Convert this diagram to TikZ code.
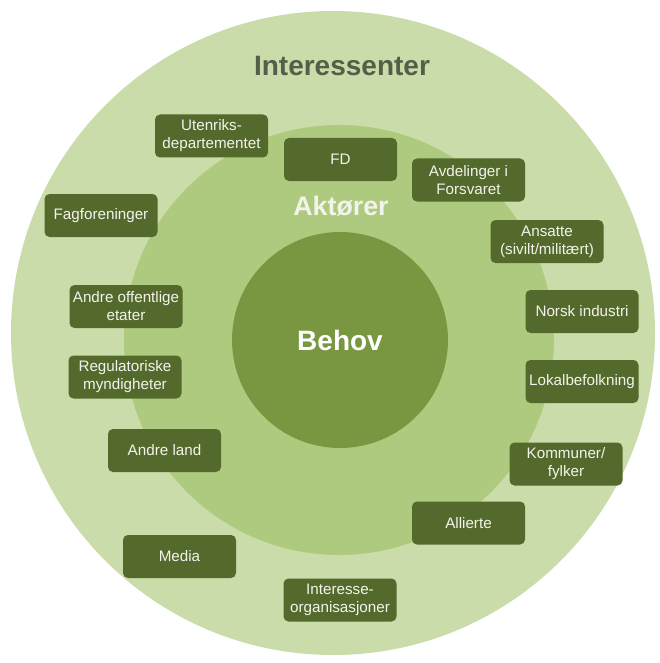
\documentclass[tikz,border=0pt]{standalone}
\usepackage{fontspec}
\setmainfont{Liberation Sans}
\begin{document}
\definecolor{ringouter}{HTML}{CADCA9}
\definecolor{ringmiddle}{HTML}{AECA7F}
\definecolor{ringinner}{HTML}{789740}
\definecolor{boxfill}{HTML}{546A2C}
\definecolor{boxtext}{HTML}{F2F4EC}
\definecolor{titlegrey}{HTML}{535F48}
\begin{tikzpicture}[x=1pt,y=-1pt,
  ring/.style={circle,draw=none,inner sep=0pt},
  actor/.style={rectangle,rounded corners=5pt,fill=boxfill,text=boxtext,
    minimum width=113pt,minimum height=43pt,inner sep=0pt,align=center,
    font=\fontsize{15.2}{18}\selectfont},
  ringtitle/.style={inner sep=0pt}]
  % canvas
  \fill[white] (0,0) rectangle (660,663);
  \useasboundingbox (0,0) rectangle (660,663);

  % three nested rings
  \node[ring,fill=ringouter,minimum size=644pt] (outer) at (333,333) {};
  \node[ring,fill=ringmiddle,minimum size=430pt] (middle) at (339,340) {};
  \node[ring,fill=ringinner,minimum size=216pt] (inner) at (340,340) {};

  % ring titles
  \node[ringtitle,text=titlegrey,font=\bfseries\fontsize{28}{32}\selectfont] (tInt) at (342,66) {Interessenter};
  \node[ringtitle,text=boxtext,font=\bfseries\fontsize{26.8}{30}\selectfont] (tAkt) at (341,206) {Aktører};
  \node[ringtitle,text=white,font=\bfseries\fontsize{28}{30}\selectfont] (tBeh) at (340,340) {Behov};

  % actors and stakeholders
  \node[actor] (ud)        at (211.5,136)   {Utenriks-\\departementet};
  \node[actor] (fd)        at (340.5,159.5) {FD};
  \node[actor] (avd)       at (468.5,180)   {Avdelinger i\\Forsvaret};
  \node[actor] (ansatte)   at (547,241.5)   {Ansatte\\(sivilt/militært)};
  \node[actor] (fag)       at (101,215.5)   {Fagforeninger};
  \node[actor] (offentlig) at (126,306.5)   {Andre offentlige\\etater};
  \node[actor] (regul)     at (125,377)     {Regulatoriske\\myndigheter};
  \node[actor] (land)      at (164.5,450.5) {Andre land};
  \node[actor] (media)     at (179.5,556.5) {Media};
  \node[actor] (intorg)    at (340,600)     {Interesse-\\organisasjoner};
  \node[actor] (allierte)  at (468.5,523)   {Allierte};
  \node[actor] (kommuner)  at (566,464)     {Kommuner/\\fylker};
  \node[actor] (industri)  at (582,311.5)   {Norsk industri};
  \node[actor] (lokal)     at (582,381.5)   {Lokalbefolkning};
\end{tikzpicture}
\end{document}
